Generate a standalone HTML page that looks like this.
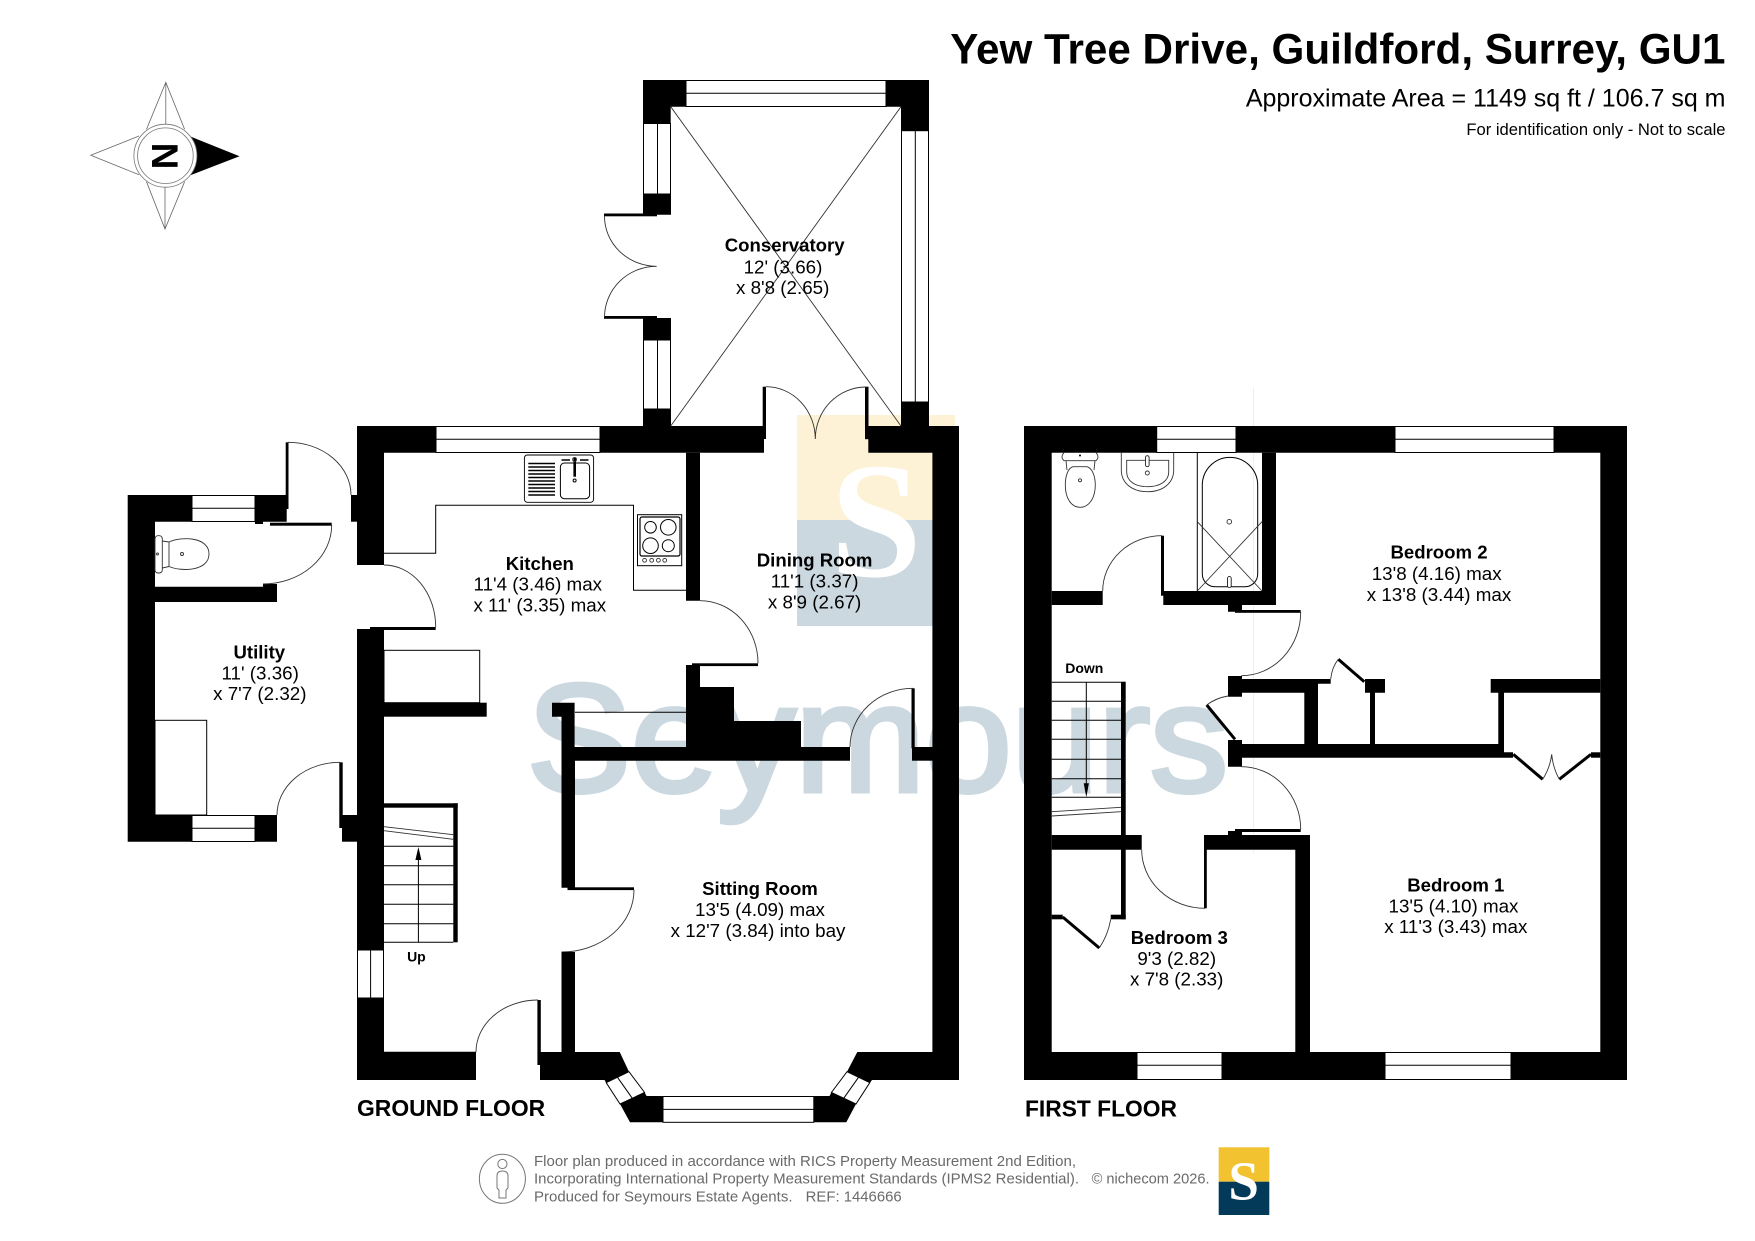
<!DOCTYPE html>
<html><head><meta charset="utf-8"><title>Yew Tree Drive floor plan</title>
<style>
html,body{margin:0;padding:0;background:#fff;width:1755px;height:1241px;overflow:hidden}
svg{display:block;font-family:"Liberation Sans",Arial,sans-serif}
.k{fill:#000}
.w{fill:#fff;stroke:#000;stroke-width:1}
.l{fill:none;stroke:#000;stroke-width:1}
.a{fill:none;stroke:#333;stroke-width:.9}
.b{font-weight:bold;font-size:18.6px;text-anchor:middle}
.r{font-size:18.8px;text-anchor:middle}
.f{font-size:14.6px;fill:#6a6a6a}
.c{fill:none;stroke:#666;stroke-width:.8}
</style></head><body>
<svg width="1755" height="1241" viewBox="0 0 1755 1241" xmlns="http://www.w3.org/2000/svg">
<rect width="1755" height="1241" fill="#fff"/>

<!-- watermark -->
<rect x="797" y="415" width="158" height="105" fill="#fdf2d5"/>
<rect x="797" y="520" width="158" height="106" fill="#cbd8df"/>
<text x="876" y="576" font-family="'Liberation Serif',serif" font-weight="bold" font-size="165" text-anchor="middle" fill="#fff">S</text>
<text x="527" y="791" font-size="153" fill="#cbd8df" stroke="#cbd8df" stroke-width="5" textLength="701" lengthAdjust="spacingAndGlyphs">Seymours</text>
<line x1="1253.5" y1="388" x2="1253.5" y2="853" stroke="#eee" stroke-width="1"/>

<!-- compass -->
<g class="compass">
<path class="c" d="M146.5 129.3L165.8 82.3L184.6 129.3M165.8 82.3V124M146.5 181.7L165 229L184.6 181.7M165 229V187M139 136L90.8 155.3L139 174.7"/>
<path d="M191 136.7L239.5 156.3L191 175Z" fill="#000"/>
<circle cx="165.4" cy="155.7" r="31.5" fill="#fff" stroke="#777" stroke-width=".8"/>
<circle cx="165.4" cy="155.7" r="27.8" fill="#fff" stroke="#777" stroke-width=".8"/>
<text transform="translate(152,156) rotate(90)" x="0" y="0" font-size="37" font-weight="bold" text-anchor="middle" dy="0">N</text>
</g>

<!-- GROUND FLOOR: conservatory -->
<path class="k" d="M643 80H686V106.7H670.7V123.5H643ZM886 80H929V130.7H901V106.7H886ZM643 194H671V214.7H643ZM643 318H671V340H643ZM643 409H671V426H643ZM901 402H929V426H901Z"/>
<rect class="w" x="686" y="80.5" width="200" height="26"/><line class="l" x1="686" y1="93.3" x2="886" y2="93.3"/>
<rect class="w" x="643.5" y="123.5" width="27" height="70.5"/><line class="l" x1="657.5" y1="123.5" x2="657.5" y2="194"/>
<rect class="w" x="643.5" y="340" width="27" height="69"/><line class="l" x1="657.5" y1="340" x2="657.5" y2="409"/>
<rect class="w" x="901.5" y="130.7" width="27" height="271.3"/><line class="l" x1="915.3" y1="130.7" x2="915.3" y2="402"/>
<path class="a" d="M670.7 106.7L901 426M901 106.7L670.7 426"/>
<rect class="k" x="604" y="213.5" width="53" height="2.8"/>
<rect class="k" x="604" y="316" width="53" height="2.8"/>
<path class="a" d="M604.5 216A52.5 50 0 0 0 656.7 266.3A52 51 0 0 0 604.5 317"/>

<!-- main outer walls ground -->
<path class="k" d="M357 426H436V452.7H384V565H357ZM600 426H766V439H764V452.7H600ZM868.3 426H959V1080H872L870 1082.7L847 1071.7L857.3 1052H932.4V452.7H868.3Z"/>
<rect class="w" x="436" y="426.5" width="164" height="26"/><line class="l" x1="436" y1="439.3" x2="600" y2="439.3"/>
<rect class="k" x="762.7" y="386.7" width="3.3" height="40"/>
<rect class="k" x="865" y="386.7" width="3.5" height="52.5"/>
<path class="a" d="M766 386.7A49.3 52.3 0 0 1 815.3 439M866 387A50.7 52 0 0 0 815.3 439"/>

<!-- kitchen left wall etc -->
<path class="k" d="M357 629H384V950H357ZM357 998H384V1051.7H476V1080H357ZM370 627H435.7V630H370Z"/>
<rect class="k" x="351" y="495" width="6" height="26.7"/>
<rect class="k" x="342" y="815" width="15" height="26.7"/>
<rect class="k" x="339.3" y="762.3" width="3.4" height="65.7"/>
<path class="a" d="M384 565A51.7 62 0 0 1 435.7 627M340 762.3A63 52.7 0 0 0 277 815M288 442.3A63 52.7 0 0 1 351 495"/>
<rect class="w" x="357.5" y="950" width="26" height="48"/><line class="l" x1="370.6" y1="950" x2="370.6" y2="998"/>

<!-- utility -->
<path class="k" d="M127.7 495H192V521.7H155V586.7H263V584H277V602H155V815H192V841.7H127.7ZM255 495H288.3V509H286.7V521.7H263V524H255ZM255 815H277V841.7H255Z"/>
<rect class="k" x="285.7" y="442.3" width="2.8" height="66.7"/>
<rect class="k" x="270" y="522.7" width="61.7" height="3"/>
<path class="a" d="M331.7 525A68.7 59 0 0 1 263 584"/>
<rect class="w" x="192" y="495.5" width="63" height="26"/><line class="l" x1="192" y1="508.3" x2="255" y2="508.3"/>
<rect class="w" x="192" y="815.5" width="63" height="26"/><line class="l" x1="192" y1="828.3" x2="255" y2="828.3"/>
<rect class="l" x="155" y="720.3" width="51.7" height="94.7"/>
<rect x="155" y="535.7" width="7.3" height="37.3" rx="3" fill="#fff" stroke="#333" stroke-width=".9"/>
<path class="a" d="M162.3 541L169 542C182 536 209 537 209 554C209 571 182 572 169 566.5L162.3 568M169 542V566.5"/>
<circle cx="157.5" cy="554" r="1" class="a"/><circle cx="182" cy="554" r="1.5" class="a"/>

<!-- kitchen fittings -->
<path class="l" d="M384 553.3H435.7V505.3H633.5V590.3H686"/>
<rect x="524.4" y="455" width="69.2" height="47.3" rx="3" fill="#fff" stroke="#000" stroke-width=".9"/>
<path stroke="#000" stroke-width="1.4" fill="none" d="M528.3 463.5H555M528.3 467H555M528.3 470.5H555M528.3 474H555M528.3 477.5H555M528.3 481H555M528.3 484.5H555M528.3 488H555M528.3 491.5H555M528.3 495H555"/>
<rect x="560.4" y="463" width="29.2" height="35.7" rx="4" class="l"/>
<rect class="k" x="573.4" y="458" width="2.6" height="18.7"/>
<circle cx="574.6" cy="480.5" r="1.5" class="l"/><circle cx="574.6" cy="459.5" r="2" class="a" fill="#aaa"/>
<path stroke="#000" stroke-width="1.4" d="M561.5 460H570M580 460H588.5"/>
<rect class="l" x="637.5" y="514.7" width="44.2" height="51"/>
<rect x="640" y="517" width="40" height="39" rx="2" fill="#fff" stroke="#000" stroke-width="1.2"/>
<circle class="l" cx="650.5" cy="527.3" r="5.8"/><circle class="l" cx="668.3" cy="527.3" r="7.8"/><circle class="l" cx="650.5" cy="545.7" r="7.8"/><circle class="l" cx="668.3" cy="545.7" r="6"/>
<circle class="a" cx="644.6" cy="560.3" r="1.9"/><circle class="a" cx="651.7" cy="560.3" r="1.9"/><circle class="a" cx="658.4" cy="560.3" r="1.9"/><circle class="a" cx="664.7" cy="560.3" r="1.9"/>
<rect class="l" x="384" y="650.3" width="95.7" height="52.4"/>
<rect class="k" x="384" y="702.7" width="102.7" height="14"/>

<!-- stairs ground -->
<rect class="k" x="384" y="803.3" width="73.7" height="4.4"/>
<rect class="k" x="453.3" y="803.3" width="4.4" height="139"/>
<path class="a" d="M384 826.7L453.3 834.7M384 830.7L453.3 839.3"/>
<path class="l" d="M384 846.3H453.3M384 865.7H453.3M384 884.7H453.3M384 904.3H453.3M384 923.7H453.3M384 942.3H453.3M418.4 942.3V860"/>
<path class="k" d="M418.4 847L421.4 860H415.4Z"/>

<!-- kitchen/dining/sitting internal walls -->
<path class="k" d="M686 452.7H700V600.7H686ZM686 665H700V687H734V721H801V747H850V760.7H575V887.7H561.5V716.7H552V702.7H574.6V747H686Z"/>
<rect class="k" x="692" y="663.3" width="66" height="2.8"/>
<path class="a" d="M700 600.7A58 62.5 0 0 1 758 663.3"/>
<line class="l" x1="575" y1="712.3" x2="686" y2="712.3"/>
<rect class="k" x="911.5" y="688.3" width="3.2" height="60"/>
<rect class="k" x="912" y="747" width="21" height="13.7"/>
<path class="a" d="M913 688.3A63 58.7 0 0 0 850 747"/>
<rect class="k" x="567.5" y="887.3" width="66.5" height="2.8"/>
<path class="a" d="M634 890A72.5 62 0 0 1 561.5 952"/>
<rect class="k" x="561.5" y="952" width="13.5" height="100"/>
<rect class="k" x="537.4" y="1000" width="3.4" height="65"/>
<path class="a" d="M538 1000A62 52 0 0 0 476 1052"/>

<!-- bay -->
<path class="k" d="M540 1052H619.7L629 1071.7L606.2 1082.7L604.5 1080H540Z"/>
<path class="k" d="M620 1104L644.6 1092.5L646.6 1096H663V1122.3H630Z"/>
<path class="k" d="M813.8 1096H829.5L831.4 1092.5L856 1104L846.3 1122.3H813.8Z"/>
<path class="w" d="M606.2 1082.7L629 1071.7L644.6 1092.5L620 1104Z" />
<path class="l" d="M617.5 1077.3L632.3 1098.3"/>
<path class="w" d="M869.8 1082.7L847 1071.7L831.4 1092.5L856 1104Z"/>
<path class="l" d="M858.5 1077.3L843.7 1098.3"/>
<rect class="w" x="663" y="1096.5" width="150.8" height="25.8"/><line class="l" x1="663" y1="1109.4" x2="813.8" y2="1109.4"/>

<!-- FIRST FLOOR -->
<path class="k" d="M1024 426H1156.7V452.7H1051.7V1052H1137V1080H1024ZM1236 426H1395V452.7H1236ZM1554 426H1627V1080H1511V1052H1600.3V452.7H1554ZM1222 1052H1385V1080H1222Z"/>
<rect class="w" x="1156.7" y="426.5" width="79.3" height="26"/><line class="l" x1="1156.7" y1="439.3" x2="1236" y2="439.3"/>
<rect class="w" x="1395" y="426.5" width="159" height="26"/><line class="l" x1="1395" y1="439.3" x2="1554" y2="439.3"/>
<rect class="w" x="1137" y="1052.5" width="85" height="27"/><line class="l" x1="1137" y1="1065.3" x2="1222" y2="1065.3"/>
<rect class="w" x="1385" y="1052.5" width="126" height="27"/><line class="l" x1="1385" y1="1065.3" x2="1511" y2="1065.3"/>

<!-- bathroom walls -->
<path class="k" d="M1262 452.7H1276V605H1242V611.7H1228V605H1163.3V591H1262ZM1051.7 591H1102.7V605H1051.7Z"/>
<rect class="k" x="1161" y="535.7" width="3" height="60"/>
<path class="a" d="M1162 535.7A59.3 55.3 0 0 0 1102.7 591"/>
<line class="l" x1="1197.3" y1="452.7" x2="1197.3" y2="591"/>
<path class="l" d="M1202.3 485.3A27.7 28 0 0 1 1257.7 485.3V574A12.7 12.7 0 0 1 1245 586.7H1215A12.7 12.7 0 0 1 1202.3 574Z"/>
<circle class="a" cx="1229.3" cy="521.7" r="2.3"/>
<path class="a" d="M1197.3 521.7L1262 591M1262 521.7L1197.3 591"/>
<rect x="1227.6" y="576.5" width="3.6" height="11" rx="1.8" fill="#fff" stroke="#000" stroke-width=".8"/>
<!-- WC -->
<path class="a" d="M1064 452.7Q1060 457 1064 460.7H1096Q1100 457 1096 452.7M1066 460.7L1067 470M1095 460.7L1094 470M1065.3 485C1065.3 476 1068 468 1073 466.7H1087C1092 468 1095.3 476 1095.3 485C1095.3 498 1089 507.3 1080.3 507.3C1071 507.3 1065.3 498 1065.3 485Z"/>
<circle cx="1080" cy="480.3" r="1.5" class="a"/><circle cx="1080" cy="455.5" r="1" fill="#000"/>
<!-- basin -->
<path class="a" d="M1121.3 452.7V470C1121.3 483 1132 491.7 1147.5 491.7C1163 491.7 1173.7 483 1173.7 470V452.7"/>
<path class="a" d="M1126.7 460.3H1168.7V472C1168.7 481 1160 486.7 1147.5 486.7C1135 486.7 1126.7 481 1126.7 472Z"/>
<rect x="1145.5" y="455.7" width="3.6" height="11" rx="1.8" fill="#fff" stroke="#222" stroke-width=".9"/>
<circle cx="1147.3" cy="473" r="2" class="a"/>

<!-- hall / bed 2 walls -->
<rect class="k" x="1235" y="610" width="65.7" height="2.8"/>
<path class="a" d="M1300.7 612A59.4 63.7 0 0 1 1241.3 675.7"/>
<path class="k" d="M1228 676H1242V679H1330.7V683.7H1318V744H1370V692.7H1365V679H1385V692.7H1375V744H1498.3V692.7H1490.7V679H1600.3V692.7H1504V752.3H1513V757.7H1242V766.7H1228V740H1242V744H1304.3V692.7H1242V696.7H1228Z"/>
<rect class="k" x="1591" y="752.3" width="9.3" height="5.4"/>
<path d="M1338.3 659.3L1364.3 681.7M1206.7 705L1235 739.3M1513.3 754.3L1542.7 779.3M1591 754.3L1559.3 779.3M1062.7 917L1099.3 948" stroke="#000" stroke-width="3" fill="none"/>
<path class="a" d="M1338.3 659.3Q1332 667 1330.7 679M1206.7 705Q1216 698 1228 696M1542.7 779.3Q1550 768 1551.7 754.3Q1553 768 1559.3 779.3M1099.3 948Q1108 935 1110.7 919.3"/>
<path class="a" d="M1241.3 766.7A59.4 62.6 0 0 1 1300.7 829.3"/>
<rect class="k" x="1235" y="829" width="65.7" height="3"/>
<rect class="k" x="1228" y="831" width="14" height="4.5"/>
<path class="k" d="M1205.7 835H1310V1052H1295.3V849.7H1205.7ZM1051.7 835H1141.7V849.7H1051.7Z"/>
<rect class="k" x="1204" y="835" width="2.8" height="73.3"/>
<path class="a" d="M1141.7 849.7A63.3 58.6 0 0 0 1205 908.3"/>

<!-- stairs first -->
<rect class="k" x="1121" y="681.7" width="4.7" height="237.6"/>
<rect class="k" x="1110.7" y="914.7" width="15" height="4.6"/>
<rect class="k" x="1051.7" y="914.7" width="11" height="4.6"/>
<path class="l" d="M1051.7 682.3H1121M1051.7 701.3H1121M1051.7 720.3H1121M1051.7 739.3H1121M1051.7 759.3H1121M1051.7 778.7H1121M1051.7 797.3H1121M1086.3 682.3V785"/>
<path class="a" d="M1051.7 811.7L1121 807.3M1051.7 816L1121 811.7"/>
<path class="k" d="M1083.7 783.3H1088.9L1086.3 797.3Z"/>

<!-- labels -->
<text class="b" x="784.7" y="251.7">Conservatory</text>
<text class="r" x="783" y="273.3">12' (3.66)</text>
<text class="r" x="782.7" y="294">x 8'8 (2.65)</text>
<text class="b" x="539.8" y="570">Kitchen</text>
<text class="r" x="537.8" y="590.7">11'4 (3.46) max</text>
<text class="r" x="539.8" y="611.3">x 11' (3.35) max</text>
<text class="b" x="814.6" y="566.7">Dining Room</text>
<text class="r" x="814.6" y="587.7">11'1 (3.37)</text>
<text class="r" x="814.6" y="608.3">x 8'9 (2.67)</text>
<text class="b" x="259.3" y="658.3">Utility</text>
<text class="r" x="260.2" y="679.3">11' (3.36)</text>
<text class="r" x="259.8" y="700">x 7'7 (2.32)</text>
<text class="b" x="760" y="895">Sitting Room</text>
<text class="r" x="760" y="916">13'5 (4.09) max</text>
<text class="r" x="758" y="937">x 12'7 (3.84) into bay</text>
<text class="b" x="1179.3" y="944">Bedroom 3</text>
<text class="r" x="1176.7" y="965">9'3 (2.82)</text>
<text class="r" x="1176.7" y="985.7">x 7'8 (2.33)</text>
<text class="b" x="1439" y="558.3">Bedroom 2</text>
<text class="r" x="1436.7" y="580">13'8 (4.16) max</text>
<text class="r" x="1439" y="601">x 13'8 (3.44) max</text>
<text class="b" x="1455.8" y="891.7">Bedroom 1</text>
<text class="r" x="1453.5" y="912.3">13'5 (4.10) max</text>
<text class="r" x="1455.8" y="933">x 11'3 (3.43) max</text>
<text x="416.4" y="961.5" font-size="14" font-weight="bold" text-anchor="middle">Up</text>
<text x="1084.3" y="673" font-size="14" font-weight="bold" text-anchor="middle">Down</text>
<text x="357" y="1116" font-size="22.9" font-weight="bold">GROUND FLOOR</text>
<text x="1025" y="1116.5" font-size="22.8" font-weight="bold">FIRST FLOOR</text>

<!-- header -->
<text x="1725.5" y="63.3" font-size="42.2" font-weight="bold" text-anchor="end">Yew Tree Drive, Guildford, Surrey, GU1</text>
<text x="1725.5" y="106.7" font-size="25" text-anchor="end">Approximate Area = 1149 sq ft / 106.7 sq m</text>
<text x="1725.5" y="135" font-size="16.6" text-anchor="end">For identification only - Not to scale</text>

<!-- footer -->
<ellipse cx="502.4" cy="1178.8" rx="23" ry="24.5" fill="none" stroke="#777" stroke-width="1"/>
<circle cx="502.4" cy="1164" r="4.6" fill="none" stroke="#777" stroke-width="1"/>
<path d="M497 1188V1176Q497 1171 502.4 1171Q508 1171 508 1176V1188L506 1190V1198H499V1190Z" fill="none" stroke="#777" stroke-width="1"/>
<text class="f" x="534" y="1166" textLength="542" lengthAdjust="spacingAndGlyphs">Floor plan produced in accordance with RICS Property Measurement 2nd Edition,</text>
<text class="f" x="534" y="1183.3" textLength="545" lengthAdjust="spacingAndGlyphs">Incorporating International Property Measurement Standards (IPMS2 Residential).</text>
<text class="f" x="1091.6" y="1183.3" textLength="118" lengthAdjust="spacingAndGlyphs">© nichecom 2026.</text>
<text class="f" x="534" y="1201.7" textLength="258.5" lengthAdjust="spacingAndGlyphs">Produced for Seymours Estate Agents.</text>
<text class="f" x="805.7" y="1201.7" textLength="96" lengthAdjust="spacingAndGlyphs">REF: 1446666</text>
<rect x="1218.7" y="1147.3" width="50.6" height="34.4" fill="#f2c230"/>
<rect x="1218.7" y="1181.7" width="50.6" height="33.3" fill="#033a5a"/>
<text x="1243.7" y="1199.3" font-family="'Liberation Serif',serif" font-weight="bold" font-size="55" text-anchor="middle" fill="#fff">S</text>
</svg>
</body></html>
